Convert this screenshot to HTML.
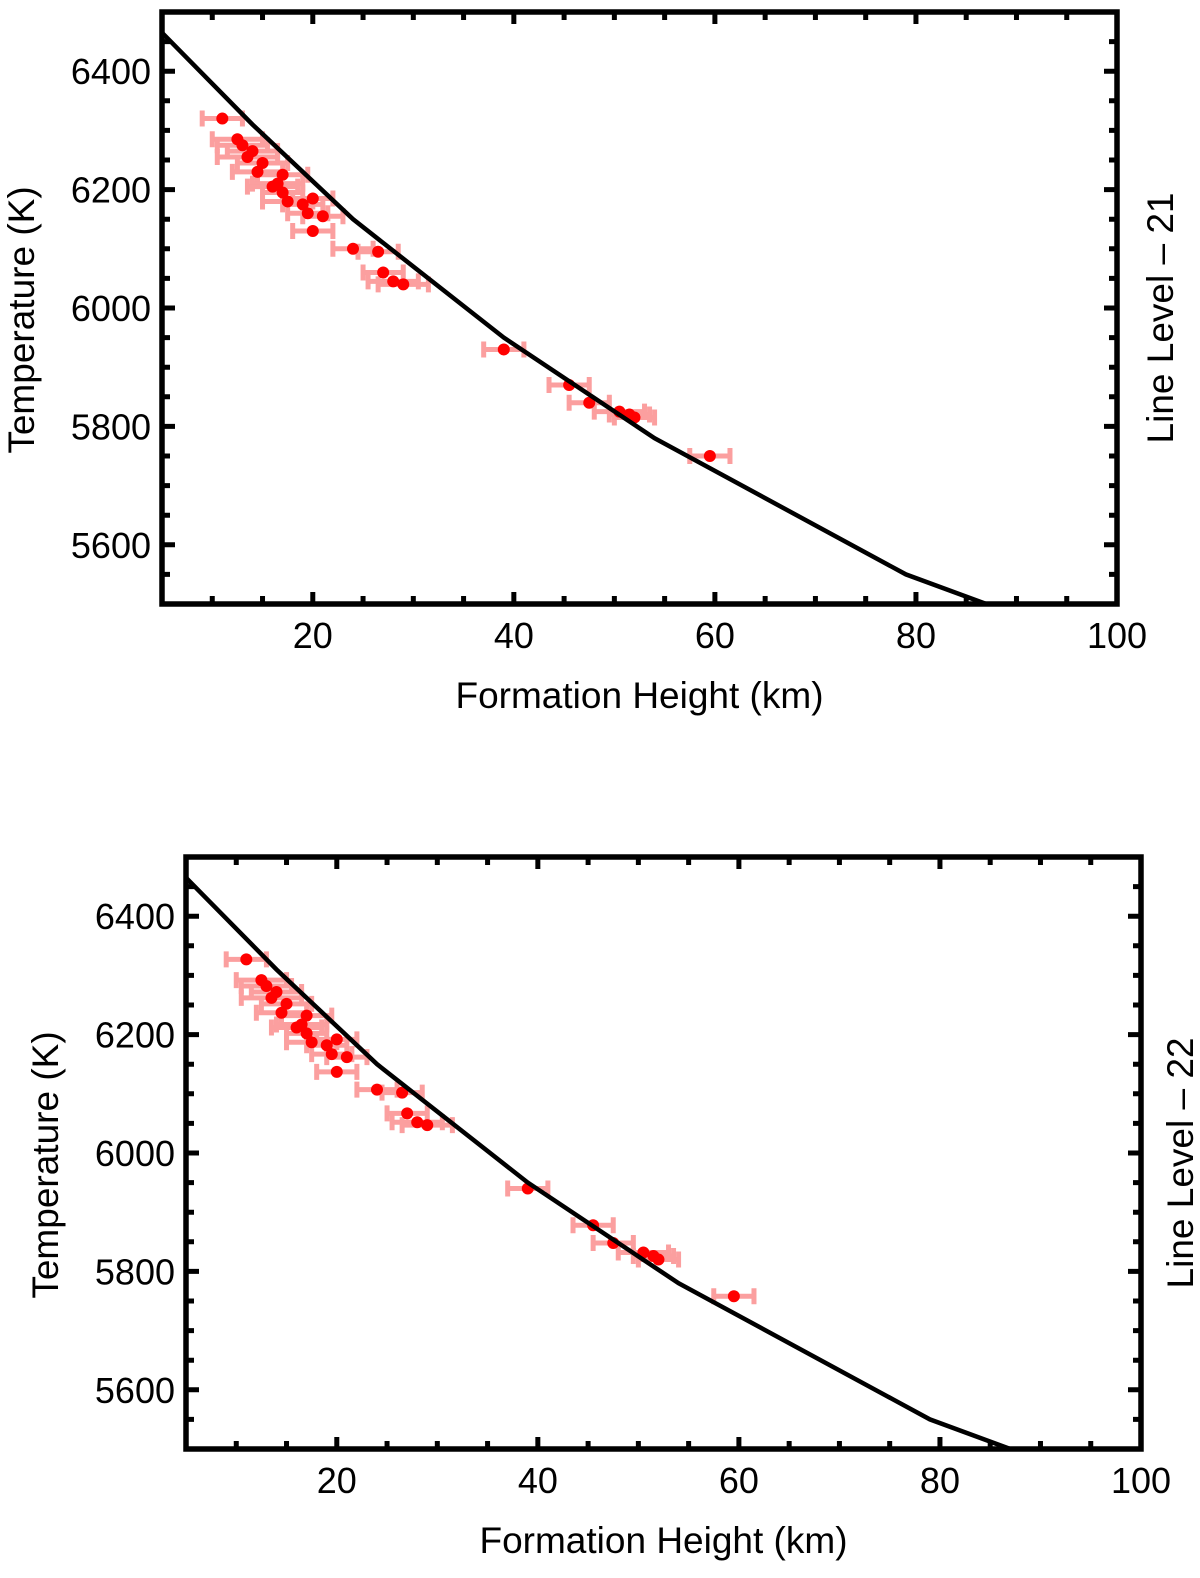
<!DOCTYPE html>
<html><head><meta charset="utf-8">
<style>
body{margin:0;background:#fff;}
svg text{font-family:"Liberation Sans",Arial,sans-serif;fill:#000;}
</style></head>
<body>
<svg id="chart" width="1200" height="1573" viewBox="0 0 1200 1573" xmlns="http://www.w3.org/2000/svg"></svg>
<script>
const heights1 = [11,12.5,13,14,13.5,15,14.5,17,16.5,17,16,17.5,19,20,19.5,21,20,24,26.5,27,28,29,39,45.5,47.5,50.5,51.5,52,59.5];
const temps1 = [6320,6285,6275,6265,6255,6245,6230,6225,6210,6195,6205,6180,6175,6185,6160,6155,6130,6100,6095,6060,6045,6040,5930,5870,5840,5825,5820,5815,5750];
const errs1 = [2,2.5,2.5,2.5,3,2.5,2.5,2.5,2.5,2,2.5,2.5,2,2,2,2,2,2,2,2,2.5,2.5,2,2,2,2.5,2,2,2];
const heights2 = [11,12.5,13,14,13.5,15,14.5,17,16.5,17,16,17.5,19,20,19.5,21,20,24,26.5,27,28,29,39,45.5,47.5,50.5,51.5,52,59.5];
const temps2 = [6327,6292,6282,6272,6262,6252,6237,6232,6217,6202,6212,6187,6182,6192,6167,6162,6137,6107,6102,6067,6052,6047,5940,5878,5848,5832,5826,5820,5758];
const modelH = [5,14,24,39,54,79,87,90];
const modelT = [6465,6310,6150,5950,5780,5550,5500,5485];
const xTicks = [20,40,60,80,100];
const yTicks = [5600,5800,6000,6200,6400];

const svg = document.getElementById('chart');
const NS = 'http://www.w3.org/2000/svg';
function mk(tag, attrs, parent){const e=document.createElementNS(NS,tag);for(const k in attrs)e.setAttribute(k,attrs[k]);(parent||svg).appendChild(e);return e;}

function drawPanel(ox, oy, hs, ts, es, label, idx, rOff){
  const L=162+ox, R=1117+ox, T=12+oy, B=604+oy;
  const xs = h => L + (h-5)/(100-5)*(R-L);
  const ys = t => B - (t-5500)/(1000)*(B-T);
  const g = mk('g',{});
  
  
  const defs = mk('clipPath',{id:'clip'+idx},g);
  mk('rect',{x:L,y:T,width:R-L,height:B-T},defs);
  const eg = mk('g',{},g);
  
  
  for(let i=0;i<hs.length;i++){
    const y=ys(ts[i]), x1=xs(hs[i]-es[i]), x2=xs(hs[i]+es[i]);
    const p = mk('path',{d:`M${x1},${y}H${x2}M${x1},${y-8}V${y+8}M${x2},${y-8}V${y+8}`,stroke:'#fb9f9f','stroke-width':5,fill:'none'},eg);
    
    
  }
  for(let i=0;i<hs.length;i++){
    const c = mk('circle',{cx:xs(hs[i]),cy:ys(ts[i]),r:6,fill:'#f00'},g);
    
    
  }
  const cg = mk('g',{'clip-path':`url(#clip${idx})`},g);
  const pl = mk('polyline',{points:modelH.map((h,i)=>xs(h)+','+ys(modelT[i])).join(' '),fill:'none',stroke:'#000','stroke-width':4.5},cg);
  
  
  let d='';
  for(let h=5;h<=100;h+=5){const x=xs(h);const len=(h%20===0)?12:8;d+=`M${x},${B}V${B-len}M${x},${T}V${T+len}`;}
  for(let t=5500;t<=6500;t+=50){const y=ys(t);const len=(t%200===0)?13:8;d+=`M${L},${y}H${L+len}M${R},${y}H${R-len}`;}
  mk('path',{d,stroke:'#000','stroke-width':5},g);
  const fr = mk('rect',{x:L,y:T,width:R-L,height:B-T,fill:'none',stroke:'#000','stroke-width':5.5},g);
  
  
  xTicks.forEach(v=>{const t=mk('text',{x:xs(v),y:B+44,'font-size':36,'text-anchor':'middle'},g);t.textContent=v;
    
    });
  yTicks.forEach(v=>{const t=mk('text',{x:L-11,y:ys(v)+13,'font-size':36,'text-anchor':'end'},g);t.textContent=v;
    
    });
  const xt = mk('text',{x:(L+R)/2,y:B+104,'font-size':37,'text-anchor':'middle'},g);
  xt.textContent='Formation Height (km)';
  
  
  const yt = mk('text',{x:0,y:0,'font-size':37,'text-anchor':'middle',transform:`translate(${L-128},${(T+B)/2+12}) rotate(-90)`},g);
  yt.textContent='Temperature (K)';
  
  
  const rt = mk('text',{x:0,y:0,'font-size':37,'text-anchor':'middle',transform:`translate(${R+rOff},${(T+B)/2+10}) rotate(-90)`},g);
  rt.textContent=label;
  
  
}
drawPanel(0,0,heights1,temps1,errs1,'Line Level \u2013 21',1,56);
drawPanel(24,845,heights2,temps2,errs1,'Line Level \u2013 22',2,52);
</script>
</body></html>
